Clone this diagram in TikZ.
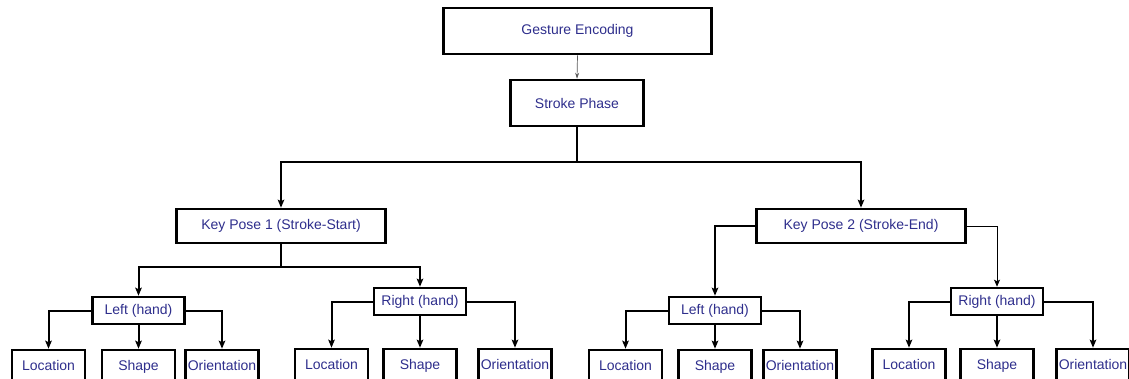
\documentclass[tikz,border=0pt]{standalone}
\usepackage{fontspec}
\setmainfont{Liberation Sans}
\usetikzlibrary{arrows.meta}

\definecolor{labelblue}{RGB}{46,46,140}

\begin{document}
\begin{tikzpicture}[x=1pt, y=-1pt,
  every node/.style={font=\fontsize{14}{16}\selectfont, text=labelblue},
  box/.style={draw=black, line width=2.6pt, inner sep=0pt},
  leafbox/.style={box, minimum width=73pt, text height=20pt, text depth=16pt, anchor=base},
  conn/.style={line width=2pt, -{Stealth[length=8pt, width=6.5pt, inset=1.5pt]}},
  thinconn/.style={line width=1pt, -{Stealth[length=7pt, width=6pt, inset=1.5pt]}}]

\useasboundingbox (0,0) rectangle (1129,378);

\def\lty{370}   %% leaf baseline under a left hand
\def\rty{369}   %% leaf baseline under a right hand

%% ── Top of the tree ──────────────────────────────────────────────────────────
\node[box, minimum width=268pt, minimum height=46pt] (enc) at (577.5,31) {Gesture Encoding};
\node[box, minimum width=133pt, minimum height=46pt] (stroke) at (577,103) {Stroke Phase};
\draw[gray!70!black, line width=0.7pt, -{Stealth[length=6pt, width=4pt]}] (enc.south) -- (stroke.north);

%% ── Key poses ────────────────────────────────────────────────────────────────
\node[box, minimum width=209pt, minimum height=34pt] (kpA) at (281,226) {Key Pose 1 (Stroke-Start)};
\node[box, minimum width=209pt, minimum height=34pt] (kpB) at (861,226) {Key Pose 2 (Stroke-End)};
\draw[conn] (stroke.south) -- ++(0,35) -| (kpA.north);
\draw[conn] (stroke.south) -- ++(0,35) -| (kpB.north);

%% ── Hands ────────────────────────────────────────────────────────────────────
\node[box, minimum width=92pt, minimum height=27pt] (handAL) at (138.5,310.5) {Left (hand)};
\node[box, minimum width=92pt, minimum height=27pt] (handAR) at (420,301.5)  {Right (hand)};
\node[box, minimum width=92pt, minimum height=27pt] (handBL) at (715,310.5)  {Left (hand)};
\node[box, minimum width=92pt, minimum height=27pt] (handBR) at (997,301.5)  {Right (hand)};

\draw[conn] (kpA.south) -- ++(0,23) -| (handAL.north);
\draw[conn] (kpA.south) -- ++(0,23) -| (handAR.north);
\draw[conn] (kpB.west) -| (handBL.north);
\draw[thinconn] (kpB.east) -| (handBR.north);

%% ── Leaves: Location / Shape / Orientation ──────────────────────────────────
\foreach \hand/\xa/\xb/\xc/\y in {handAL/48.5/138.5/222/\lty, handAR/331.5/420/515/\rty,
                                  handBL/625.5/715/800/\lty, handBR/909/997/1093/\rty}{
  \node[leafbox] (\hand-loc)   at (\xa,\y) {Location};
  \node[leafbox] (\hand-shape) at (\xb,\y) {Shape};
  \node[leafbox] (\hand-ori)   at (\xc,\y) {Orientation};
  \draw[conn] (\hand.west)  -| (\hand-loc.north);
  \draw[conn] (\hand.south) -- (\hand-shape.north);
  \draw[conn] (\hand.east)  -| (\hand-ori.north);
}

\end{tikzpicture}
\end{document}
